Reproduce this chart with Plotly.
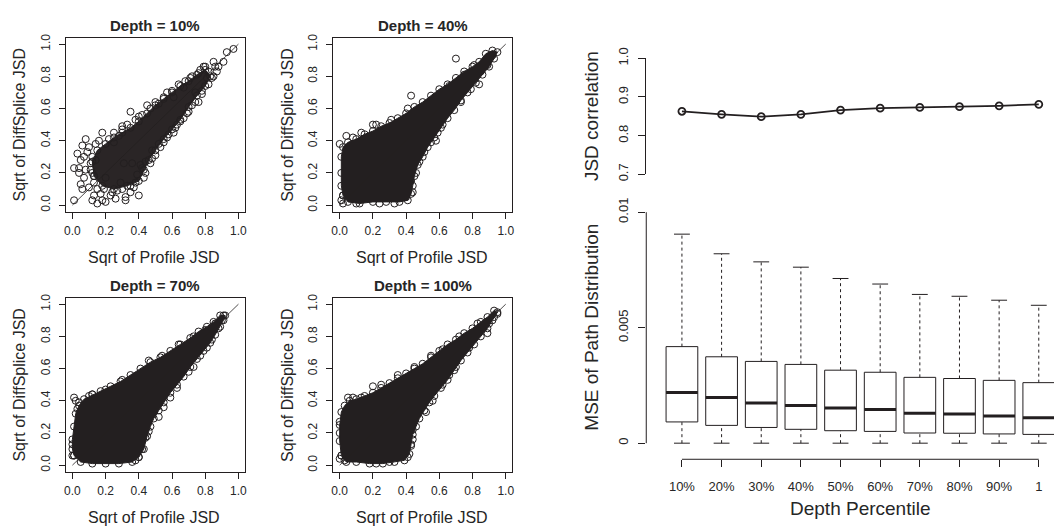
import plotly.graph_objects as go

W, H = 1056, 531
DARK = "#231f20"
TXT = "#262626"
FONT = "Liberation Sans, Arial, Helvetica, sans-serif"

# ---------------- data ----------------
depth_labels = ["10%", "20%", "30%", "40%", "50%", "60%", "70%", "80%", "90%", "1"]
jsd_corr = [0.863, 0.855, 0.849, 0.855, 0.866, 0.871, 0.873, 0.875, 0.877, 0.881]

mse_low = [0, 0, 0, 0, 0, 0, 0, 0, 0, 0]
mse_q1 = [0.00092, 0.00077, 0.00068, 0.00060, 0.00054, 0.00051, 0.00044, 0.00043, 0.00040, 0.00038]
mse_med = [0.00219, 0.00198, 0.00174, 0.00163, 0.00152, 0.00146, 0.00130, 0.00126, 0.00118, 0.00110]
mse_q3 = [0.00418, 0.00374, 0.00354, 0.00341, 0.00316, 0.00307, 0.00285, 0.00280, 0.00272, 0.00262]
mse_high = [0.00905, 0.00820, 0.00785, 0.00762, 0.00713, 0.00689, 0.00644, 0.00636, 0.00619, 0.00597]

panel_titles = ["Depth = 10%", "Depth = 40%", "Depth = 70%", "Depth = 100%"]

# outline of the densely over-plotted region of each scatter (sqrt profile JSD, sqrt DiffSplice JSD)
core_10 = [(0.13, 0.18), (0.18, 0.12), (0.25, 0.10), (0.33, 0.12), (0.40, 0.15), (0.43, 0.22),
           (0.46, 0.28), (0.50, 0.34), (0.55, 0.41), (0.60, 0.47), (0.65, 0.53), (0.70, 0.61),
           (0.75, 0.68), (0.80, 0.74), (0.83, 0.80), (0.80, 0.84), (0.75, 0.81), (0.70, 0.77),
           (0.65, 0.74), (0.60, 0.70), (0.55, 0.66), (0.50, 0.62), (0.45, 0.57), (0.40, 0.52),
           (0.35, 0.48), (0.30, 0.45), (0.25, 0.42), (0.20, 0.38), (0.15, 0.34), (0.12, 0.27)]
core_40 = [(0.02, 0.06), (0.05, 0.02), (0.12, 0.01), (0.20, 0.02), (0.28, 0.02), (0.36, 0.02),
           (0.41, 0.03), (0.43, 0.07), (0.44, 0.12), (0.45, 0.18), (0.47, 0.25), (0.50, 0.30),
           (0.53, 0.36), (0.57, 0.42), (0.61, 0.48), (0.65, 0.54), (0.69, 0.59), (0.73, 0.65),
           (0.77, 0.70), (0.82, 0.76), (0.86, 0.81), (0.90, 0.86), (0.93, 0.91), (0.95, 0.95),
           (0.92, 0.96), (0.88, 0.94), (0.84, 0.89), (0.80, 0.86), (0.75, 0.83), (0.70, 0.79),
           (0.65, 0.75), (0.60, 0.72), (0.55, 0.68), (0.50, 0.64), (0.45, 0.61), (0.40, 0.57),
           (0.35, 0.54), (0.30, 0.51), (0.25, 0.49), (0.20, 0.46), (0.15, 0.44), (0.10, 0.41),
           (0.05, 0.39), (0.02, 0.36), (0.01, 0.30), (0.01, 0.20), (0.01, 0.12)]
core_70 = [(0.01, 0.06), (0.05, 0.02), (0.12, 0.01), (0.20, 0.01), (0.28, 0.01), (0.36, 0.02),
           (0.40, 0.05), (0.43, 0.10), (0.45, 0.18), (0.47, 0.24), (0.49, 0.29), (0.52, 0.34),
           (0.55, 0.39), (0.59, 0.45), (0.63, 0.50), (0.67, 0.55), (0.71, 0.61), (0.75, 0.66),
           (0.79, 0.71), (0.83, 0.76), (0.86, 0.81), (0.89, 0.86), (0.91, 0.90), (0.92, 0.93),
           (0.89, 0.93), (0.85, 0.89), (0.81, 0.86), (0.76, 0.83), (0.71, 0.79), (0.65, 0.75),
           (0.59, 0.71), (0.53, 0.67), (0.47, 0.64), (0.41, 0.60), (0.35, 0.56), (0.29, 0.52),
           (0.23, 0.49), (0.17, 0.46), (0.12, 0.44), (0.07, 0.41), (0.04, 0.37), (0.02, 0.32),
           (0.01, 0.24), (0.00, 0.16), (0.00, 0.10)]
core_100 = [(0.01, 0.06), (0.04, 0.02), (0.10, 0.02), (0.18, 0.01), (0.26, 0.01), (0.33, 0.02),
            (0.39, 0.03), (0.42, 0.07), (0.43, 0.12), (0.44, 0.19), (0.46, 0.24), (0.48, 0.29),
            (0.51, 0.34), (0.54, 0.39), (0.57, 0.43), (0.61, 0.48), (0.65, 0.53), (0.69, 0.59),
            (0.73, 0.65), (0.77, 0.70), (0.81, 0.75), (0.85, 0.80), (0.89, 0.85), (0.92, 0.90),
            (0.95, 0.95), (0.93, 0.96), (0.89, 0.92), (0.85, 0.89), (0.80, 0.85), (0.75, 0.82),
            (0.70, 0.78), (0.65, 0.75), (0.60, 0.71), (0.55, 0.67), (0.50, 0.63), (0.45, 0.60),
            (0.40, 0.57), (0.35, 0.54), (0.30, 0.51), (0.25, 0.48), (0.20, 0.45), (0.15, 0.43),
            (0.10, 0.41), (0.06, 0.40), (0.03, 0.37), (0.01, 0.33), (0.00, 0.25), (0.00, 0.15)]

# individually visible points around each dense region
pts_10 = [(0.97, 0.97), (0.93, 0.95), (0.91, 0.89), (0.85, 0.89), (0.86, 0.86), (0.87, 0.83),
          (0.82, 0.83), (0.77, 0.84), (0.81, 0.79), (0.78, 0.69), (0.76, 0.64), (0.71, 0.79),
          (0.67, 0.73), (0.45, 0.62), (0.35, 0.58), (0.61, 0.67), (0.69, 0.57), (0.65, 0.52),
          (0.61, 0.45), (0.55, 0.39), (0.48, 0.29), (0.43, 0.17), (0.40, 0.06), (0.32, 0.03),
          (0.32, 0.05), (0.20, 0.02), (0.15, 0.01), (0.12, 0.03), (0.01, 0.03), (0.05, 0.13),
          (0.01, 0.23), (0.04, 0.23), (0.05, 0.28), (0.06, 0.37), (0.08, 0.41), (0.14, 0.38),
          (0.18, 0.45), (0.25, 0.45), (0.28, 0.43), (0.22, 0.41), (0.09, 0.33), (0.11, 0.26),
          (0.07, 0.17), (0.10, 0.11), (0.15, 0.10), (0.17, 0.07), (0.23, 0.06), (0.27, 0.09),
          (0.37, 0.11), (0.29, 0.14), (0.20, 0.17), (0.36, 0.26), (0.31, 0.26), (0.42, 0.23),
          (0.48, 0.34), (0.03, 0.32), (0.07, 0.30), (0.10, 0.36), (0.04, 0.20), (0.08, 0.22),
          (0.12, 0.20), (0.06, 0.10), (0.13, 0.06), (0.18, 0.03), (0.26, 0.04), (0.35, 0.08),
          (0.38, 0.14), (0.44, 0.27), (0.52, 0.38), (0.58, 0.44), (0.63, 0.50), (0.72, 0.62),
          (0.74, 0.70), (0.84, 0.79), (0.88, 0.86), (0.80, 0.86), (0.57, 0.70), (0.50, 0.64),
          (0.40, 0.55), (0.30, 0.49), (0.25, 0.39), (0.16, 0.40), (0.14, 0.28),
          (0.30, 0.47), (0.33, 0.50), (0.38, 0.53), (0.42, 0.56), (0.47, 0.60), (0.52, 0.63),
          (0.55, 0.67), (0.60, 0.71), (0.64, 0.75), (0.68, 0.77), (0.72, 0.80), (0.76, 0.82),
          (0.79, 0.86), (0.44, 0.20), (0.47, 0.26), (0.50, 0.31), (0.53, 0.36), (0.57, 0.42),
          (0.62, 0.48), (0.67, 0.54), (0.70, 0.58), (0.74, 0.64), (0.78, 0.71), (0.82, 0.75),
          (0.85, 0.80), (0.12, 0.30), (0.11, 0.22), (0.13, 0.14), (0.19, 0.10), (0.24, 0.08),
          (0.30, 0.10), (0.35, 0.12), (0.39, 0.19), (0.41, 0.25)]
pts_40 = [(0.70, 0.91), (0.43, 0.68), (0.00, 0.38), (0.04, 0.43), (0.08, 0.42), (0.13, 0.45),
          (0.20, 0.50), (0.22, 0.50), (0.31, 0.53), (0.41, 0.60), (0.58, 0.40), (0.59, 0.45),
          (0.62, 0.50), (0.55, 0.39), (0.51, 0.33), (0.48, 0.27), (0.46, 0.20), (0.44, 0.08),
          (0.43, 0.15), (0.40, 0.05), (0.84, 0.75), (0.79, 0.72), (0.73, 0.64), (0.85, 0.83),
          (0.89, 0.87), (0.92, 0.93), (0.90, 0.92), (0.88, 0.90), (0.81, 0.87), (0.75, 0.81),
          (0.66, 0.74), (0.01, 0.03), (0.02, 0.01), (0.10, 0.01), (0.24, 0.01), (0.33, 0.01)]
pts_70 = [(0.01, 0.42), (0.02, 0.40), (0.04, 0.39), (0.03, 0.35), (0.00, 0.13), (0.00, 0.06),
          (0.10, 0.43), (0.12, 0.44), (0.20, 0.47), (0.30, 0.53), (0.40, 0.05), (0.38, 0.03),
          (0.42, 0.10), (0.44, 0.17), (0.46, 0.21), (0.52, 0.30), (0.55, 0.36), (0.59, 0.42),
          (0.63, 0.48), (0.70, 0.58), (0.73, 0.61), (0.77, 0.68), (0.81, 0.73), (0.84, 0.78),
          (0.88, 0.85), (0.90, 0.90), (0.91, 0.93), (0.86, 0.88), (0.80, 0.84), (0.73, 0.80),
          (0.64, 0.75), (0.54, 0.68), (0.46, 0.65)]
pts_100 = [(0.20, 0.49), (0.25, 0.50), (0.13, 0.42), (0.08, 0.42), (0.05, 0.42), (0.00, 0.27),
           (0.00, 0.20), (0.00, 0.04), (0.03, 0.03), (0.89, 0.82), (0.83, 0.88), (0.86, 0.86),
           (0.90, 0.88), (0.93, 0.92), (0.95, 0.94), (0.78, 0.73), (0.70, 0.61), (0.66, 0.56),
           (0.62, 0.50), (0.56, 0.40), (0.52, 0.33), (0.44, 0.22), (0.44, 0.16), (0.43, 0.13),
           (0.41, 0.05), (0.22, 0.01), (0.30, 0.02), (0.35, 0.56), (0.45, 0.61), (0.55, 0.68),
           (0.62, 0.72), (0.72, 0.80)]

cores = [core_10, core_40, core_70, core_100]
points = [pts_10, pts_40, pts_70, pts_100]
core_fill = ["#2a2526", DARK, DARK, DARK]


def fx(px):
    return px / W


def fy(py):
    return 1 - py / H


def label(text, px, py, size, angle=0):
    return dict(text=text, x=fx(px), y=fy(py), xref="paper", yref="paper",
                xanchor="center", yanchor="middle", showarrow=False, textangle=angle,
                font=dict(family=FONT, size=size, color=TXT))


fig = go.Figure()
annotations = []
shapes = []
layout_axes = {}

# ---------------- four scatter panels ----------------
panel_left = [64.0, 332.3, 64.0, 332.3]
panel_top = [27.6, 27.6, 296.8, 296.8]
PW = PH = 180.0
marker_open = dict(symbol="circle-open", size=7, color=DARK, line=dict(width=1, color=DARK))

for i in range(4):
    n = i + 1
    xa, ya = f"x{n}", f"y{n}"
    core = cores[i] + [cores[i][0]]
    fig.add_trace(go.Scatter(
        x=[p[0] for p in core], y=[p[1] for p in core], xaxis=xa, yaxis=ya,
        mode="lines+markers", fill="toself", fillcolor=core_fill[i],
        line=dict(color=DARK, width=1), marker=marker_open, showlegend=False,
        hoverinfo="skip"))
    fig.add_trace(go.Scatter(
        x=[p[0] for p in points[i]], y=[p[1] for p in points[i]], xaxis=xa, yaxis=ya,
        mode="markers", marker=marker_open, showlegend=False))
    fig.add_trace(go.Scatter(
        x=[0, 1], y=[0, 1], xaxis=xa, yaxis=ya, mode="lines",
        line=dict(color=DARK, width=0.8), showlegend=False, hoverinfo="skip"))

    L, T = panel_left[i], panel_top[i]
    common = dict(range=[-0.04, 1.04], tickvals=[0, 0.2, 0.4, 0.6, 0.8, 1.0],
                  ticktext=["0.0", "0.2", "0.4", "0.6", "0.8", "1.0"],
                  showgrid=False, zeroline=False, showline=True, mirror=True,
                  linecolor=DARK, linewidth=1, ticks="outside", ticklen=6,
                  tickwidth=1, tickcolor=DARK,
                  tickfont=dict(family=FONT, size=12, color=TXT))
    layout_axes[f"xaxis{n}"] = dict(common, domain=[fx(L), fx(L + PW)], anchor=ya,
                                    ticklabelstandoff=2)
    layout_axes[f"yaxis{n}"] = dict(common, domain=[fy(T + PH), fy(T)], anchor=xa,
                                    tickangle=-90, ticklabelstandoff=4)

    annotations.append(label(f"<b>{panel_titles[i]}</b>", L + PW / 2, T - 12.6, 15))
    annotations.append(label("Sqrt of Profile JSD", L + PW / 2 - 1, T + PH + 47.3, 16))
    annotations.append(label("Sqrt of DiffSplice JSD", L - 46, T + PH / 2, 16, -90))

# ---------------- correlation line (top right) ----------------
SPACING = 39.8
RX0 = 646.7
x_range = [0.1, 0.1 + (W - RX0) / SPACING]
xs = list(range(1, len(depth_labels) + 1))

fig.add_trace(go.Scatter(
    x=xs, y=jsd_corr, xaxis="x5", yaxis="y5", mode="lines+markers",
    line=dict(color=DARK, width=1.8),
    marker=dict(symbol="circle-open", size=7, color=DARK, line=dict(width=1.8, color=DARK)),
    showlegend=False))
layout_axes["xaxis5"] = dict(domain=[fx(RX0), 1], range=x_range, visible=False, anchor="y5")
layout_axes["yaxis5"] = dict(domain=[fy(169), fy(49)], range=[0.7, 1.0], anchor="x5",
                             tickvals=[0.7, 0.8, 0.9, 1.0], ticktext=["0.7", "0.8", "0.9", "1.0"],
                             showgrid=False, zeroline=False, showline=True, linecolor=DARK,
                             linewidth=1, ticks="outside", ticklen=7, tickcolor=DARK,
                             tickangle=-90, ticklabelstandoff=5,
                             tickfont=dict(family=FONT, size=13, color=TXT))
annotations.append(label("JSD correlation", 592, 109, 19, -90))

# ---------------- MSE box plots (bottom right) ----------------
bx, by = [], []
mx, my = [], []
wx, wy = [], []
cx, cy = [], []
for k, x in enumerate(xs):
    bx += [x - 0.4, x + 0.4, x + 0.4, x - 0.4, x - 0.4, None]
    by += [mse_q1[k], mse_q1[k], mse_q3[k], mse_q3[k], mse_q1[k], None]
    mx += [x - 0.4, x + 0.4, None]
    my += [mse_med[k], mse_med[k], None]
    wx += [x, x, None, x, x, None]
    wy += [mse_q3[k], mse_high[k], None, mse_low[k], mse_q1[k], None]
    cx += [x - 0.2, x + 0.2, None, x - 0.2, x + 0.2, None]
    cy += [mse_high[k], mse_high[k], None, mse_low[k], mse_low[k], None]

for tx, ty, ln in [(wx, wy, dict(color=DARK, width=1, dash="3px,3px")),
                   (cx, cy, dict(color=DARK, width=1)),
                   (bx, by, dict(color=DARK, width=1)),
                   (mx, my, dict(color=DARK, width=3))]:
    fig.add_trace(go.Scatter(x=tx, y=ty, xaxis="x6", yaxis="y6", mode="lines", line=ln,
                             showlegend=False, hoverinfo="skip"))

AXIS_Y = 464.0
layout_axes["xaxis6"] = dict(domain=[fx(RX0), 1], range=x_range, anchor="free", position=fy(AXIS_Y),
                             tickvals=xs, ticktext=depth_labels, showgrid=False, zeroline=False,
                             showline=False, ticks="outside", ticklen=7, tickcolor=DARK,
                             ticklabelstandoff=8,
                             tickfont=dict(family=FONT, size=13, color=TXT))
layout_axes["yaxis6"] = dict(domain=[fy(456.9), fy(198.7)], range=[-0.0004, 0.0104], anchor="x6",
                             tickvals=[0, 0.005, 0.01], ticktext=["0", "0.005", "0.01"],
                             showgrid=False, zeroline=False, showline=False, ticks="outside",
                             ticklen=7, tickcolor=DARK, tickangle=-90, ticklabelstandoff=5,
                             tickfont=dict(family=FONT, size=13, color=TXT))
# axis lines spanning only the tick range
shapes.append(dict(type="line", xref="paper", yref="y6", x0=fx(RX0), x1=fx(RX0), y0=0, y1=0.01,
                   line=dict(color=DARK, width=1)))
shapes.append(dict(type="line", xref="x6", yref="paper", x0=1, x1=10, y0=fy(AXIS_Y), y1=fy(AXIS_Y),
                   line=dict(color=DARK, width=1)))

annotations.append(label("MSE of Path Distribution", 592, 327, 19, -90))
annotations.append(label("Depth Percentile", 861, 515, 19))

fig.update_layout(
    width=W, height=H, margin=dict(l=0, r=0, t=0, b=0),
    paper_bgcolor="white", plot_bgcolor="white",
    font=dict(family=FONT, color=TXT), showlegend=False,
    annotations=annotations, shapes=shapes, **layout_axes)

fig.write_html("out.html")
